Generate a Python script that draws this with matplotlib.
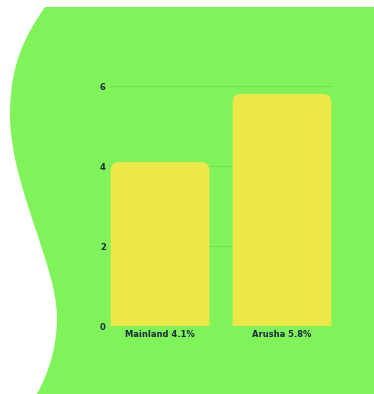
import matplotlib.pyplot as plt
from matplotlib.path import Path
from matplotlib.patches import PathPatch, FancyBboxPatch

categories = ["Mainland 4.1%", "Arusha 5.8%"]
values = [4.1, 5.8]
yticks = [0, 2, 4, 6]

W, H = 374, 394
fig = plt.figure(figsize=(W / 100, H / 100), dpi=100)
fig.patch.set_facecolor("white")

# wavy green background, pixel coords -> figure coords
def p(x, y):
    return (x / W, 1 - y / H)

verts = [p(45, 7), p(374, 7), p(374, 394), p(37, 394),
         p(50, 370), p(57, 345), p(57, 318),
         p(57, 265), p(10, 185), p(10, 115),
         p(10, 60), p(28, 32), p(45, 7)]
codes = [Path.MOVETO, Path.LINETO, Path.LINETO, Path.LINETO,
         Path.CURVE4, Path.CURVE4, Path.CURVE4,
         Path.CURVE4, Path.CURVE4, Path.CURVE4,
         Path.CURVE4, Path.CURVE4, Path.CURVE4]
bg = PathPatch(Path(verts, codes), facecolor="#80f25a", edgecolor="none",
               transform=fig.transFigure, zorder=-5)
fig.patches.append(bg)

ax = fig.add_axes([110 / W, 68 / H, 222 / W, 240 / H])
ax.set_facecolor("none")
ax.set_xlim(-0.41, 1.41)
ax.set_ylim(0, 6)

bars = ax.bar(range(len(values)), values, width=0.81, color="none")
# aspect: data y per px / data x per px
asp = (6 / 240) / (1.82 / 222)
for b in bars:
    x0, w, h = b.get_x(), b.get_width(), b.get_height()
    r = 0.07
    ax.add_patch(FancyBboxPatch((x0, -0.5), w, h + 0.5,
                                boxstyle=f"round,pad=0,rounding_size={r}",
                                mutation_aspect=asp, facecolor="#ece84a",
                                edgecolor="none", zorder=2))

ax.set_yticks(yticks)
ax.set_xticks(range(len(categories)))
ax.set_xticklabels(categories)
ax.grid(axis="y", color="#72de4f", linewidth=0.7, zorder=0)
ax.set_axisbelow(True)
for s in ax.spines.values():
    s.set_visible(False)
ax.tick_params(length=0, labelsize=6, labelcolor="#1e2b3c", pad=3)
for t in ax.get_xticklabels() + ax.get_yticklabels():
    t.set_fontweight("bold")
ax.tick_params(axis="x", pad=3)

fig.savefig("out.png", dpi=100)
